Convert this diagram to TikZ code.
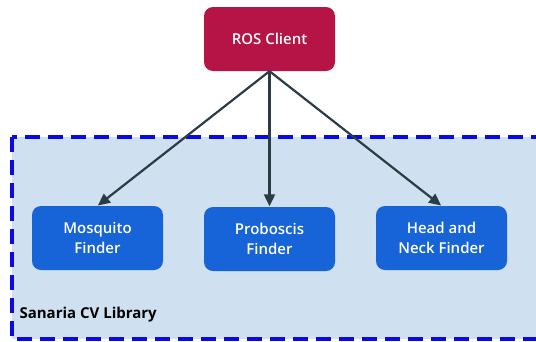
\documentclass[tikz,border=0pt]{standalone}
\usepackage{fontspec}
\setmainfont{Open Sans}
\newfontfamily\semifont{Open Sans Semibold}
\usetikzlibrary{arrows.meta,positioning}
\definecolor{RosRed}{RGB}{182,20,70}
\definecolor{FinderBlue}{RGB}{22,100,216}
\definecolor{LibFill}{RGB}{207,224,240}
\definecolor{LibDash}{RGB}{10,10,230}
\definecolor{ArrowSlate}{RGB}{44,60,68}
\tikzset{
  block/.style={rounded corners=9pt,minimum width=131pt,minimum height=64pt,
    align=center,text=white,font=\semifont\fontsize{15}{20}\selectfont},
  feed/.style={-{Triangle[length=12pt,width=11pt]},line width=2.2pt,draw=ArrowSlate,
    fill=ArrowSlate,shorten >=0.5pt}
}

\begin{document}
\begin{tikzpicture}[x=1pt,y=-1pt]
  \useasboundingbox (0,0) rectangle (536,341);
  \begin{scope}
    \clip (0,0) rectangle (536,341);
    \draw[LibDash,fill=LibFill,line width=3.5pt,dash pattern=on 15pt off 8pt]
      (12,137) rectangle (560,339);
  \end{scope}
  \node[anchor=west,font=\bfseries\fontsize{15}{18}\selectfont] (lib) at (16,315) {Sanaria CV Library};
  \node[block,fill=RosRed] (ros) at (269.5,39) {ROS Client};
  \node[block,fill=FinderBlue] (mosq) at (97.5,238) {Mosquito\\Finder};
  \node[block,fill=FinderBlue] (prob) at (269.5,239) {Proboscis\\Finder};
  \node[block,fill=FinderBlue] (head) at (441.5,238) {Head and\\Neck Finder};
  \draw[feed] (ros.south) -- (mosq.north);
  \draw[feed] (ros.south) -- (prob.north);
  \draw[feed] (ros.south) -- (head.north);
\end{tikzpicture}
\end{document}
